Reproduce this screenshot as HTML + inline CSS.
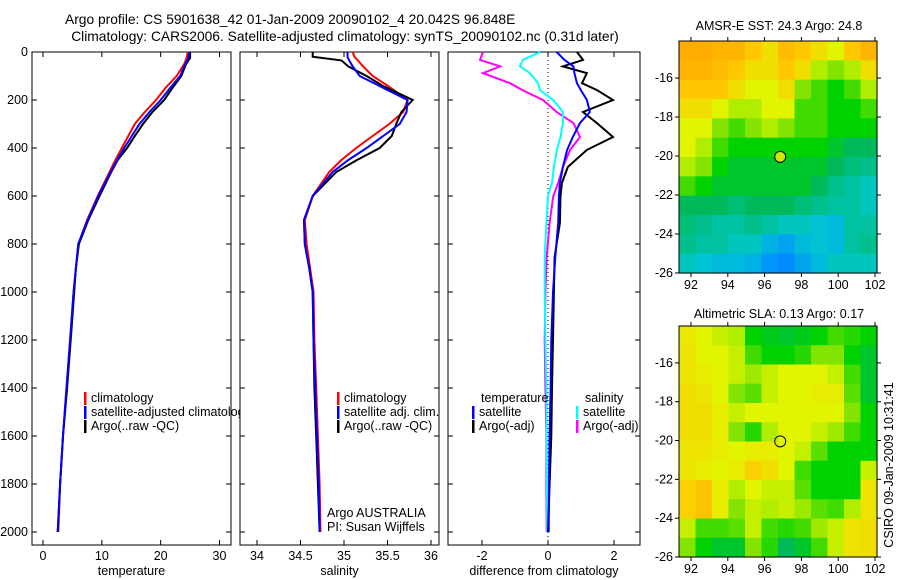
<!DOCTYPE html>
<html><head><meta charset="utf-8"><style>
body{margin:0;background:#fff;}
svg{display:block;font-family:"Liberation Sans",sans-serif;}
</style></head><body>
<svg id="c" width="900" height="580" viewBox="0 0 900 580" xmlns="http://www.w3.org/2000/svg">
<text x="65" y="24" font-size="13.8">Argo profile: CS 5901638_42 01-Jan-2009 20090102_4 20.042S 96.848E</text>
<text x="345" y="41" font-size="13.8" text-anchor="middle">Climatology: CARS2006. Satellite-adjusted climatology: synTS_20090102.nc (0.31d later)</text>
<text x="779" y="30" font-size="12.5" text-anchor="middle">AMSR-E SST: 24.3 Argo: 24.8</text>
<text x="779" y="318" font-size="12.5" text-anchor="middle">Altimetric SLA: 0.13 Argo: 0.17</text>
<text transform="translate(893,465) rotate(-90)" font-size="12.5" text-anchor="middle">CSIRO 09-Jan-2009 10:31:41</text>
<g id="g"></g>
</svg>
<script>
const depth=[0,25,50,100,150,200,250,300,350,400,450,500,600,700,800,900,1000,1200,1400,1600,1800,2000];
const tArgo=[25.0,25.0,24.3,23.5,22.0,20.6,18.6,17.0,15.6,14.3,12.7,11.6,9.6,7.7,6.1,5.6,5.3,4.7,4.1,3.4,2.9,2.5];
const tClim=[24.6,24.4,24.0,22.7,20.8,19.2,17.3,15.6,14.5,13.4,12.3,11.3,9.3,7.5,6.0,5.6,5.2,4.6,4.0,3.4,2.9,2.6];
const tSat=[24.9,24.7,24.2,23.3,21.6,20.0,18.1,16.4,15.1,13.8,12.6,11.5,9.4,7.6,6.0,5.6,5.2,4.6,4.0,3.4,2.9,2.5];
const sDepth=[0,20,35,60,100,140,200,250,300,350,400,450,500,600,700,800,900,1000,1200,1400,1600,1800,2000];
const sArgo=[34.64,34.64,34.97,35.05,35.26,35.44,35.79,35.66,35.6,35.55,35.41,35.15,34.91,34.64,34.54,34.55,34.6,34.64,34.65,34.66,34.68,34.7,34.72];
const sClim=[35.1,35.12,35.16,35.22,35.33,35.5,35.73,35.68,35.52,35.33,35.14,34.97,34.83,34.64,34.55,34.57,34.61,34.65,34.66,34.68,34.7,34.72,34.73];
const sSat=[35.04,35.04,35.06,35.1,35.18,35.4,35.73,35.72,35.64,35.45,35.26,35.05,34.87,34.64,34.54,34.55,34.6,34.64,34.65,34.67,34.69,34.71,34.72];
const dDepth=[0,33,60,88,130,160,200,250,296,354,408,479,546,600,712,854,1000,1200,1400,1600,1800,2000];
const dTArgo=[0.88,1.06,0.45,1.18,1.03,1.5,1.97,1.06,1.48,1.97,1.18,0.6,0.42,0.38,0.36,0.2,0.18,0.15,0.12,0.1,0.05,0.0];
const dTSat=[0.26,0.5,0.77,0.8,0.88,1.0,1.18,1.27,0.97,0.75,0.58,0.45,0.36,0.33,0.31,0.22,0.15,0.1,0.08,0.05,0.03,0.02];
const dSArgo=[-1.97,-2.06,-1.45,-1.97,-1.15,-0.76,-0.15,0.26,0.77,0.97,0.67,0.45,0.31,0.16,0.05,-0.04,-0.08,-0.1,-0.08,-0.05,-0.05,-0.04];
const dSSat=[-0.24,-0.76,-0.85,-0.55,-0.3,-0.24,0.16,0.45,0.45,0.38,0.27,0.18,0.12,0.0,-0.05,-0.1,-0.1,-0.08,-0.05,-0.04,-0.03,-0.02];
const depthTicks=[0,200,400,600,800,1000,1200,1400,1600,1800,2000];
const tTicks=[0,10,20,30];
const sTicks=[34,34.5,35,35.5,36];
const sTickLabels=["34","34.5","35","35.5","36"];
const dTicks=[-2,0,2];
const lonTicks=[92,94,96,98,100,102];
const latTicks=[-16,-18,-20,-22,-24,-26];
const sstGrid=[
[.92,.92,.9,.9,.85,.8,.88,.85,.8,.75,.85,.9],
[.9,.9,.88,.85,.8,.8,.85,.8,.7,.65,.7,.8],
[.85,.85,.85,.8,.75,.75,.8,.65,.6,.55,.6,.7],
[.8,.8,.75,.7,.7,.75,.75,.6,.6,.55,.55,.6],
[.75,.75,.65,.6,.65,.7,.65,.6,.6,.55,.55,.55],
[.75,.7,.6,.55,.55,.55,.55,.55,.55,.5,.45,.45],
[.7,.65,.55,.5,.5,.5,.5,.5,.5,.45,.42,.4],
[.6,.55,.5,.5,.5,.5,.5,.5,.45,.4,.38,.35],
[.45,.45,.45,.42,.45,.45,.45,.42,.4,.38,.38,.35],
[.42,.4,.38,.38,.4,.38,.35,.35,.32,.3,.38,.38],
[.4,.38,.38,.35,.35,.28,.25,.3,.32,.3,.38,.4],
[.35,.32,.3,.3,.28,.22,.2,.25,.3,.35,.35,.35]];
const slaGrid=[
[.78,.75,.72,.7,.55,.52,.5,.52,.55,.6,.58,.55],
[.79,.75,.75,.72,.6,.55,.55,.58,.65,.65,.55,.5],
[.79,.77,.75,.72,.68,.72,.75,.75,.75,.72,.6,.5],
[.8,.79,.75,.65,.62,.72,.75,.75,.77,.77,.62,.5],
[.8,.8,.77,.72,.75,.75,.75,.75,.75,.75,.65,.55],
[.8,.8,.77,.65,.58,.7,.75,.75,.72,.68,.6,.55],
[.79,.79,.77,.75,.77,.77,.75,.72,.62,.55,.55,.55],
[.79,.77,.75,.77,.83,.8,.75,.6,.55,.55,.55,.72],
[.83,.86,.77,.7,.75,.72,.72,.62,.55,.55,.55,.79],
[.83,.86,.77,.65,.72,.7,.72,.68,.62,.6,.7,.79],
[.72,.6,.6,.62,.72,.6,.58,.6,.68,.72,.79,.8],
[.65,.55,.5,.5,.65,.58,.45,.5,.6,.72,.79,.8]];
const floatLon=96.848, floatLat=-20.042;

const NS="http://www.w3.org/2000/svg";
const G=document.getElementById('g');
function mk(tag,attrs,parent){const e=document.createElementNS(NS,tag);for(const k in attrs)e.setAttribute(k,attrs[k]);(parent||G).appendChild(e);return e;}
const Y0=52,Y1=545,yD=d=>Y0+d*0.24;
function lin(d0,d1,p0,p1){return v=>p0+(v-d0)*(p1-p0)/(d1-d0);}

function panel(name,x0,x1,xs,ticks,labels,xlabel,showY){
  const g=mk('g',{});
  
  
  const r=mk('rect',{x:x0,y:Y0,width:x1-x0,height:Y1-Y0,fill:'#fff',stroke:'#000','stroke-width':1},g);
  
  
  ticks.forEach((t,i)=>{const x=xs(t);
    mk('line',{x1:x,x2:x,y1:Y1,y2:Y1-5,stroke:'#000'},g);
    mk('line',{x1:x,x2:x,y1:Y0,y2:Y0+5,stroke:'#000'},g);
    const tx=mk('text',{x:x,y:Y1+15,'font-size':12.5,'text-anchor':'middle'},g);tx.textContent=labels[i];
    
    
  });
  depthTicks.forEach(d=>{const y=yD(d);
    mk('line',{x1:x0,x2:x0+5,y1:y,y2:y,stroke:'#000'},g);
    mk('line',{x1:x1,x2:x1-5,y1:y,y2:y,stroke:'#000'},g);
    if(showY){const tx=mk('text',{x:x0-4,y:y+4,'font-size':12.5,'text-anchor':'end'},g);tx.textContent=d;
      
      }
  });
  const xl=mk('text',{x:(x0+x1)/2,y:575,'font-size':12.5,'text-anchor':'middle'},g);xl.textContent=xlabel;
  
  
  return g;
}
function line(g,xs,vals,deps,color,name){
  const p=vals.map((v,i)=>xs(v).toFixed(1)+','+yD(deps[i]).toFixed(1)).join(' ');
  const e=mk('polyline',{points:p,fill:'none',stroke:color,'stroke-width':2},g);
  
  
}
function legend(g,x,y,color,label,name){
  mk('rect',{x:x-1,y:y-10,width:2.5,height:13,fill:color},g);
  const t=mk('text',{x:x+6,y:y,'font-size':12.5},g);t.textContent=label;
  
  
}
const xT=lin(0,30,43,219.5);
const p1=panel('temperature-panel',32,231,xT,tTicks,tTicks.map(String),'temperature',true);
line(p1,xT,tClim,depth,'#f00','temp-climatology-line');
line(p1,xT,tArgo,depth,'#000','temp-argo-line');
line(p1,xT,tSat,depth,'#00f','temp-satellite-line');
legend(p1,85,402,'#f00','climatology','legend-climatology');
legend(p1,85,416,'#00f','satellite-adjusted climatology','legend-satellite');
legend(p1,85,430,'#000','Argo(..raw -QC)','legend-argo');
const xS=lin(34,36,257,431);
const p2=panel('salinity-panel',240,439,xS,sTicks,sTickLabels,'salinity',false);
line(p2,xS,sClim,sDepth,'#f00','sal-climatology-line');
line(p2,xS,sArgo,sDepth,'#000','sal-argo-line');
line(p2,xS,sSat,sDepth,'#00f','sal-satellite-line');
legend(p2,338,402,'#f00','climatology','legend-climatology-2');
legend(p2,338,416,'#00f','satellite adj. clim.','legend-satellite-2');
legend(p2,338,430,'#000','Argo(..raw -QC)','legend-argo-2');
[['Argo AUSTRALIA',517,'argo-country'],['PI: Susan Wijffels',531,'pi-name']].forEach(a=>{
  const t=mk('text',{x:327,y:a[1],'font-size':12.5},p2);t.textContent=a[0];
  
  });
const xDf=lin(-2,2,482,614);
const p3=panel('difference-panel',448,640,xDf,dTicks,dTicks.map(String),'difference from climatology',false);
mk('line',{x1:xDf(0),x2:xDf(0),y1:Y0,y2:Y1,stroke:'#000','stroke-dasharray':'1,3'},p3);
line(p3,xDf,dSArgo,dDepth,'#f0f','sal-argo-diff-line');
line(p3,xDf,dSSat,dDepth,'#0ff','sal-sat-diff-line');
line(p3,xDf,dTArgo,dDepth,'#000','temp-argo-diff-line');
line(p3,xDf,dTSat,dDepth,'#00f','temp-sat-diff-line');
[['temperature',481,'legend-temperature-header'],['salinity',585,'legend-salinity-header']].forEach(a=>{
  const t=mk('text',{x:a[1],y:402,'font-size':12.5},p3);t.textContent=a[0];
  
  });
legend(p3,473,416,'#00f','satellite','legend-temp-satellite');
legend(p3,473,430,'#000','Argo(-adj)','legend-temp-argo');
legend(p3,577,416,'#0ff','satellite','legend-sal-satellite');
legend(p3,577,430,'#f0f','Argo(-adj)','legend-sal-argo');

const stops=[[0.2,[0,140,255]],[0.33,[0,200,210]],[0.45,[0,185,90]],[0.55,[0,210,0]],[0.65,[130,228,0]],[0.75,[225,245,0]],[0.85,[255,200,0]],[0.95,[255,160,0]]];
function cmap(v){
  if(v<=stops[0][0])return 'rgb('+stops[0][1]+')';
  for(let i=1;i<stops.length;i++){if(v<=stops[i][0]){const a=stops[i-1],b=stops[i],f=(v-a[0])/(b[0]-a[0]);
    return 'rgb('+a[1].map((c,k)=>Math.round(c+(b[1][k]-c)*f)).join(',')+')';}}
  return 'rgb('+stops[stops.length-1][1]+')';
}
function map(name,grid,top,bottom,fillMarker){
  const g=mk('g',{});
  
  
  const x0=679,x1=877;
  const lx=lin(92,102,691,875), ly=lin(-16,-26,top+(bottom-top)*(1.9/11.9),bottom);
  const rows=grid.length,cols=grid[0].length,cw=(x1-x0)/cols,ch=(bottom-top)/rows;
  grid.forEach((row,r)=>row.forEach((v,c)=>{
    const e=mk('rect',{x:(x0+c*cw).toFixed(2),y:(top+r*ch).toFixed(2),width:(cw+0.6).toFixed(2),height:(ch+0.6).toFixed(2),fill:cmap(v)},g);
    
    
  }));
  mk('rect',{x:x0,y:top,width:x1-x0,height:bottom-top,fill:'none',stroke:'#000'},g);
  lonTicks.forEach(l=>{const x=lx(l);
    mk('line',{x1:x,x2:x,y1:bottom,y2:bottom+4,stroke:'#000'},g);
    mk('line',{x1:x,x2:x,y1:top,y2:top-4,stroke:'#000'},g);
    const t=mk('text',{x:x,y:bottom+16,'font-size':12.5,'text-anchor':'middle'},g);t.textContent=l;
    
    });
  latTicks.forEach(l=>{const y=ly(l);
    mk('line',{x1:x0,x2:x0-4,y1:y,y2:y,stroke:'#000'},g);
    mk('line',{x1:x1,x2:x1+4,y1:y,y2:y,stroke:'#000'},g);
    const t=mk('text',{x:x0-6,y:y+4,'font-size':12.5,'text-anchor':'end'},g);t.textContent=l;
    
    });
  const m=mk('circle',{cx:lx(floatLon),cy:ly(floatLat),r:5.5,fill:fillMarker,stroke:'#000'},g);
  
  
}
map('sst-map',sstGrid,41,273,'#c8e800');
map('sla-map',slaGrid,326,557,'none');
</script>
</body></html>
